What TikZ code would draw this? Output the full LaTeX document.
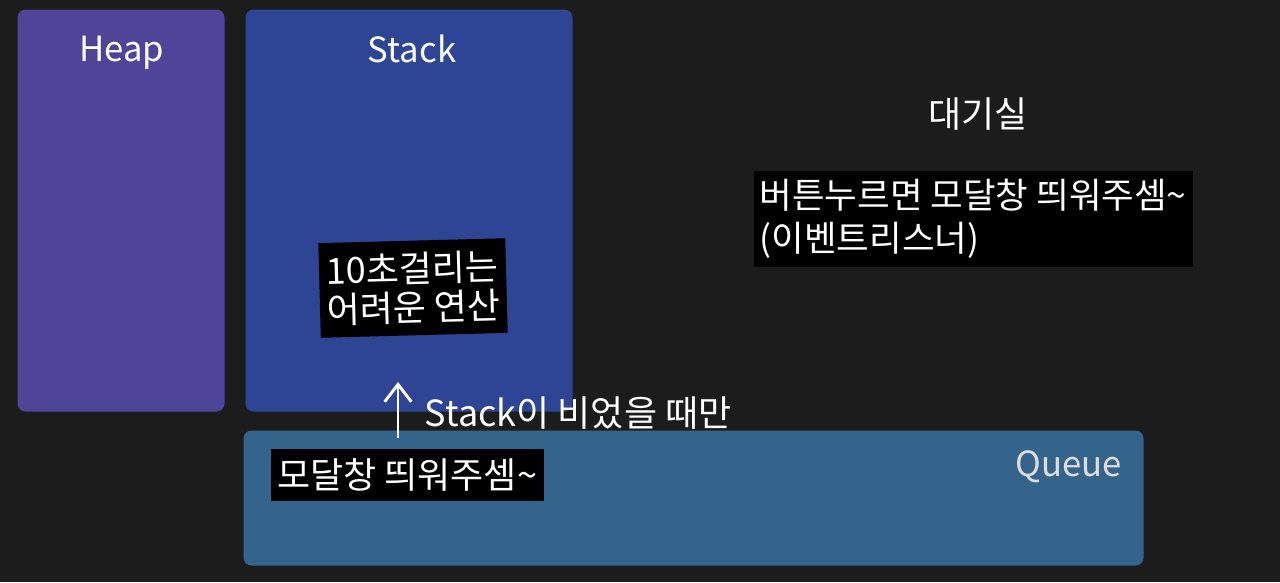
\documentclass[tikz,border=0pt]{standalone}
\usepackage{fontspec}
\newfontfamily\kr{Noto Sans CJK KR}
\usetikzlibrary{positioning,arrows.meta}
\definecolor{bgcol}{RGB}{28,28,28}
\definecolor{heapcol}{RGB}{79,69,152}
\definecolor{stackcol}{RGB}{46,69,150}
\definecolor{queuecol}{RGB}{52,100,140}
\definecolor{dimwhite}{RGB}{222,222,222}

\begin{document}
\begin{tikzpicture}
[
  x=0.75pt, y=-0.75pt,
  panel/.style={rectangle, rounded corners=6pt, draw=none, inner sep=0pt, anchor=north west},
  title/.style={text=white, anchor=base, font=\kr\fontsize{26}{28}\selectfont},
  caption/.style={fill=black, text=white, font=\kr\fontsize{27}{29}\selectfont, inner xsep=5pt, inner ysep=2pt},
  plain/.style={text=white, font=\kr\fontsize{27}{29}\selectfont},
  thick
]
 \path[fill=bgcol] (0,0) rectangle (1280,582);

 % boxes
 \node[panel, fill=heapcol, minimum width=155.25pt, minimum height=301.5pt] (heap) at (17,9) {};
 \node[panel, fill=stackcol, minimum width=245.25pt, minimum height=301.5pt] (stack) at (245,9) {};
 \node[panel, fill=queuecol, minimum width=675pt, minimum height=101.25pt] (queue) at (243,430) {};

 \node[title] (heaplbl) at (122,61) {Heap};
 \node[title] (stacklbl) at (412,62) {Stack};
 \node[title, text=dimwhite] (queuelbl) at (1069,476) {Queue};

 % the task sitting in the stack
 \node[caption, align=center, rotate=1.5, minimum width=138pt, minimum height=71pt] (task) at (413,288) {10초걸리는\\어려운 연산};

 % waiting room
 \node[plain] (room) at (978,114) {대기실};
 \node[caption, align=left, anchor=north west, inner xsep=4.5pt, minimum height=72pt, font=\kr\fontsize{26.6}{32}\selectfont] (listener) at (753,170) {버튼누르면 모달창 띄워주셈\textasciitilde\\(이벤트리스너)};

 % callback in the queue
 \node[caption, anchor=north west, minimum height=39pt] (modal) at (270,448) {모달창 띄워주셈\textasciitilde};

 \coordinate (qtail) at (398,438);
 \coordinate (qhead) at (398,382);
 \draw[-{Straight Barb[length=13pt,width=20pt]}, white, line width=2.2pt] (qtail) -- (qhead);
 \node[plain, anchor=west] (cond) at (420,413) {Stack이 비었을 때만};
\end{tikzpicture}
\end{document}
